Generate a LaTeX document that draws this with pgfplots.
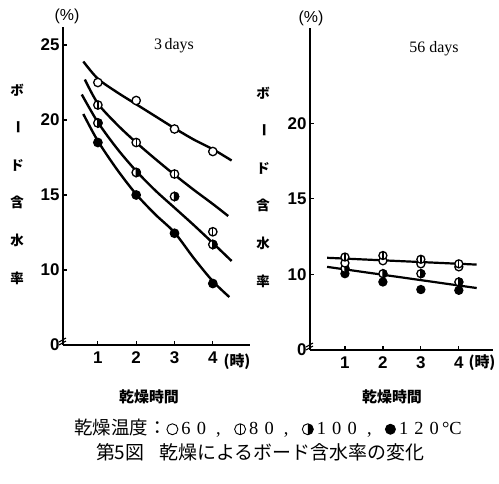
\documentclass[border=0pt]{standalone}
\usepackage{pgfplots}
\pgfplotsset{compat=1.18}
\usepackage{fontspec}
\setmainfont{Liberation Serif}
\newfontfamily\jp{Noto Sans CJK JP}
\newfontfamily\sansb{Liberation Sans}

\pgfdeclareplotmark{ocirc}{\pgfpathcircle{\pgfpointorigin}{\pgfplotmarksize}\pgfsetfillcolor{white}\pgfusepathqfillstroke}
\pgfdeclareplotmark{phic}{\pgfpathcircle{\pgfpointorigin}{\pgfplotmarksize}\pgfsetfillcolor{white}\pgfusepathqfillstroke
 \pgfpathmoveto{\pgfqpoint{0pt}{-\pgfplotmarksize}}\pgfpathlineto{\pgfqpoint{0pt}{\pgfplotmarksize}}\pgfusepathqstroke}
\pgfdeclareplotmark{halfc}{\pgfpathcircle{\pgfpointorigin}{\pgfplotmarksize}\pgfsetfillcolor{white}\pgfusepathqfillstroke
 \pgfpathmoveto{\pgfqpoint{0pt}{-\pgfplotmarksize}}\pgfpatharc{-90}{90}{\pgfplotmarksize}\pgfpathclose\pgfsetfillcolor{black}\pgfusepathqfillstroke}
\pgfdeclareplotmark{fcirc}{\pgfpathcircle{\pgfpointorigin}{\pgfplotmarksize}\pgfsetfillcolor{black}\pgfusepathqfillstroke}

\pgfplotsset{
  panel/.style={scale only axis, axis x line=bottom, axis y line=left,
    axis line style={line width=2.2bp,-},
    tick style={line width=1.2bp,black}, major tick length=4bp, tick align=inside,
    xtick={1,2,3,4}, xticklabels={1,2,3,4},
    ticklabel style={font=\sansb\bfseries\fontsize{17}{17}\selectfont},
    xticklabel style={yshift=-3bp},
    /pgf/number format/assume math mode=true, clip=false},
  curve/.style={line width=2.4bp, smooth, no marks, black},
  pts/.style={only marks, mark size=4.2bp, mark options={line width=1.3bp, black}},
}
\newcommand{\lsym}[1]{\tikz[baseline=-0.6ex]{\draw[line width=0.9bp,fill=white] (0,0) circle (5.5bp); #1}}

\begin{document}
\begin{tikzpicture}
\useasboundingbox (0,0) rectangle (499bp,-484bp);

% ---------- left panel: 3 days ----------
\begin{axis}[panel, at={(63bp,-345bp)}, anchor=south west,
  width=187bp, height=318bp, xmin=0.09, xmax=4.97, ymin=5, ymax=26.2,
  ytick={5,10,15,20,25}, yticklabels={0,10,15,20,25}]
\addplot[curve] coordinates {(0.62,23.9) (1,22.75) (1.5,21.85) (2,21.05) (2.5,20.25) (3,19.45) (3.5,18.7) (4,18.05) (4.49,17.3)};
\addplot[curve] coordinates {(0.66,22.7) (1,21.1) (1.5,19.7) (2,18.5) (2.5,17.4) (3,16.35) (3.5,15.35) (4,14.4) (4.4,13.6)};
\addplot[curve] coordinates {(0.58,21.7) (1,19.85) (1.5,18.1) (2,16.6) (2.5,15.3) (3,14.15) (3.5,13.0) (4,11.8) (4.49,10.6)};
\addplot[curve] coordinates {(0.62,20.4) (1,18.6) (1.5,16.7) (2,15.05) (2.5,13.7) (3,12.5) (3.5,10.8) (4,9.25) (4.43,8.2)};
\addplot[pts, mark=ocirc] coordinates {(1,22.5) (2,21.3) (3,19.4) (4,17.9)};
\addplot[pts, mark=phic] coordinates {(1,21.0) (2,18.5) (3,16.4) (4,12.55)};
\addplot[pts, mark=halfc] coordinates {(1,19.8) (2,16.5) (3,14.9) (4,11.7)};
\addplot[pts, mark=fcirc] coordinates {(1,18.5) (2,15.0) (3,12.45) (4,9.1)};
\draw[line width=1.1bp] (rel axis cs:0,0) ++(-4bp,3bp) -- ++(7bp,4bp);
\draw[line width=1.1bp] (rel axis cs:0,0) ++(-4bp,0bp) -- ++(7bp,4bp);
\end{axis}

% ---------- right panel: 56 days ----------
\begin{axis}[panel, at={(310bp,-350bp)}, anchor=south west,
  width=183bp, height=322bp, xmin=0.08, xmax=4.9, ymin=5, ymax=26.3,
  ytick={5,10,15,20}, yticklabels={0,10,15,20}]
\addplot[curve, line width=2.2bp] coordinates {(0.53,11.1) (4.47,10.65)};
\addplot[curve, line width=2.2bp] coordinates {(0.53,10.5) (4.47,9.1)};
\addplot[pts, mark size=4bp, mark=fcirc] coordinates {(1,10.05) (2,9.5) (3,9.0) (4,8.95)};
\addplot[pts, mark size=4bp, mark=halfc] coordinates {(1,10.4) (2,10.05) (3,10.05) (4,9.5)};
\addplot[pts, mark size=4bp, mark=ocirc] coordinates {(1,10.75) (2,10.9) (3,10.7) (4,10.5)};
\addplot[pts, mark size=4bp, mark=phic] coordinates {(1,11.15) (2,11.25) (3,11.0) (4,10.7)};
\draw[line width=1.1bp] (rel axis cs:0,0) ++(-4bp,3bp) -- ++(7bp,4bp);
\draw[line width=1.1bp] (rel axis cs:0,0) ++(-4bp,0bp) -- ++(7bp,4bp);
\end{axis}

% ---------- texts ----------
\node[font=\sansb\fontsize{16}{16}\selectfont] at (67bp,-16bp) {(\%)};
\node[font=\sansb\fontsize{16}{16}\selectfont] at (311bp,-18bp) {(\%)};
\node[font=\fontsize{16}{16}\selectfont] at (174bp,-46bp) {3\,days};
\node[font=\fontsize{16}{16}\selectfont] at (434bp,-49bp) {56 days};
\foreach \c/\y in {ボ/90, ド/165.2, 含/202.8, 水/240.4, 率/278}{
  \node[font=\jp\bfseries\fontsize{13.5}{13.5}\selectfont] at (17bp,-\y bp) {\c};
  \node[font=\jp\bfseries\fontsize{13.5}{13.5}\selectfont] at (263bp,-\y bp-3bp) {\c};
}
\node[font=\jp\bfseries\fontsize{13.5}{13.5}\selectfont, rotate=-90] at (17bp,-127.6bp) {ー};
\node[font=\jp\bfseries\fontsize{13.5}{13.5}\selectfont, rotate=-90] at (263bp,-130.6bp) {ー};
\node[font=\jp\bfseries\fontsize{15}{15}\selectfont] at (237bp,-362bp) {(時)};
\node[font=\jp\bfseries\fontsize{15}{15}\selectfont] at (482bp,-363bp) {(時)};
\node[font=\jp\bfseries\fontsize{15}{15}\selectfont] at (149bp,-397bp) {乾燥時間};
\node[font=\jp\bfseries\fontsize{15}{15}\selectfont] at (392bp,-397bp) {乾燥時間};
\node[font=\fontsize{18.5}{18.5}\selectfont] at (268bp,-428bp) {{\jp 乾燥温度：}\lsym{}\,6\,\,0\;\;,\;\;\,\lsym{\draw[line width=0.9bp] (0,-5.5bp)--(0,5.5bp);}\,8\,\,0\;\;,\;\;\,\lsym{\fill (0,-5.5bp) arc (-90:90:5.5bp) -- cycle;}\,1\,\,0\,\,0\;\;,\;\;\,\tikz[baseline=-0.6ex]\fill (0,0) circle (5.5bp);\,1\,\,2\,\,0\,°C};
\node[font=\jp\fontsize{19}{19}\selectfont] at (260bp,-452bp) {第5図\hspace{0.8em}乾燥によるボード含水率の変化};
\end{tikzpicture}
\end{document}
